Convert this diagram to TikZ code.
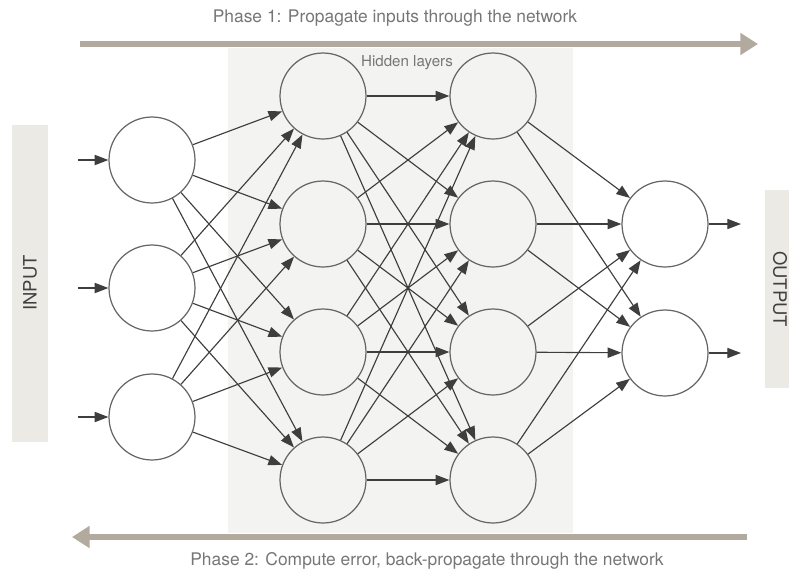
\documentclass[tikz,border=0pt]{standalone}
\usepackage{fontspec}
\setmainfont{TeX Gyre Heros}
\usetikzlibrary{arrows.meta,positioning}

\definecolor{phasegray}{RGB}{178,169,159}
\definecolor{panelgray}{RGB}{243,243,241}
\definecolor{boxgray}{RGB}{236,234,228}
\definecolor{textgray}{RGB}{118,118,118}
\definecolor{linegray}{RGB}{62,62,62}

\begin{document}
\begin{tikzpicture}[x=0.02cm,y=-0.02cm,>={Triangle[length=7.8pt,width=5.8pt]},
neuron/.style = {draw=black!60, circle, line width=0.7pt, minimum size=1.72cm, inner sep=0pt},
link/.style = {->, draw=linegray, line width=0.65pt},
phase/.style = {draw=phasegray, line width=3.4pt, -{Triangle[length=10pt,width=12pt]}},
caption/.style = {text=textgray, font=\fontsize{9.9}{12}\selectfont},
sidelabel/.style = {text=black!75, font=\fontsize{10.5}{12}\selectfont},]
\useasboundingbox (0,0) rectangle (789,572);
% backgrounds
\fill[panelgray] (228,48) rectangle (573,533);
\fill[boxgray] (12,125) rectangle (48,442);
\fill[boxgray] (765,190) rectangle (789,388);
\node (input) at (30,283)[sidelabel,rotate=90] {INPUT};
\node (output) at (780,289)[sidelabel,rotate=-90] {OUTPUT};
\node (hidden) at (407,63)[text=textgray,font=\fontsize{8.6}{10}\selectfont] {Hidden layers};
% phases
\coordinate (p1s) at (80,44);
\coordinate (p1e) at (758,44);
\coordinate (p2s) at (747,537);
\coordinate (p2e) at (72,537);
\draw[phase] (p1s)--(p1e);
\draw[phase] (p2s)--(p2e);
\node (phase1) at (395,18)[caption] {Phase 1: Propagate inputs through the network};
\node (phase2) at (427,561)[caption] {Phase 2: Compute error, back-propagate through the network};
% neurons
\node (I1) at (152,160)[neuron] {};
\node (I2) at (152,288)[neuron] {};
\node (I3) at (152,417)[neuron] {};
\node (A1) at (323,96)[neuron] {};
\node (A2) at (323,224)[neuron] {};
\node (A3) at (323,352)[neuron] {};
\node (A4) at (323,480)[neuron] {};
\node (B1) at (493,96)[neuron] {};
\node (B2) at (493,224)[neuron] {};
\node (B3) at (493,352)[neuron] {};
\node (B4) at (493,480)[neuron] {};
\node (O1) at (665,224)[neuron] {};
\node (O2) at (665,353)[neuron] {};
% inputs and outputs
\coordinate (x1) at (78,160);
\coordinate (x2) at (78,288);
\coordinate (x3) at (78,417);
\coordinate (y1) at (741,224);
\coordinate (y2) at (741,353);
\draw[link] (x1)--(I1);
\draw[link] (x2)--(I2);
\draw[link] (x3)--(I3);
\draw[link] (O1)--(y1);
\draw[link] (O2)--(y2);
% connections
\foreach \i in {1,2,3} \foreach \j in {1,...,4} \draw[link] (I\i)--(A\j);
\foreach \i in {1,...,4} \foreach \j in {1,...,4} \draw[link] (A\i)--(B\j);
\foreach \i in {1,...,4} \foreach \j in {1,2} \draw[link] (B\i)--(O\j);
\end{tikzpicture}
\end{document}
